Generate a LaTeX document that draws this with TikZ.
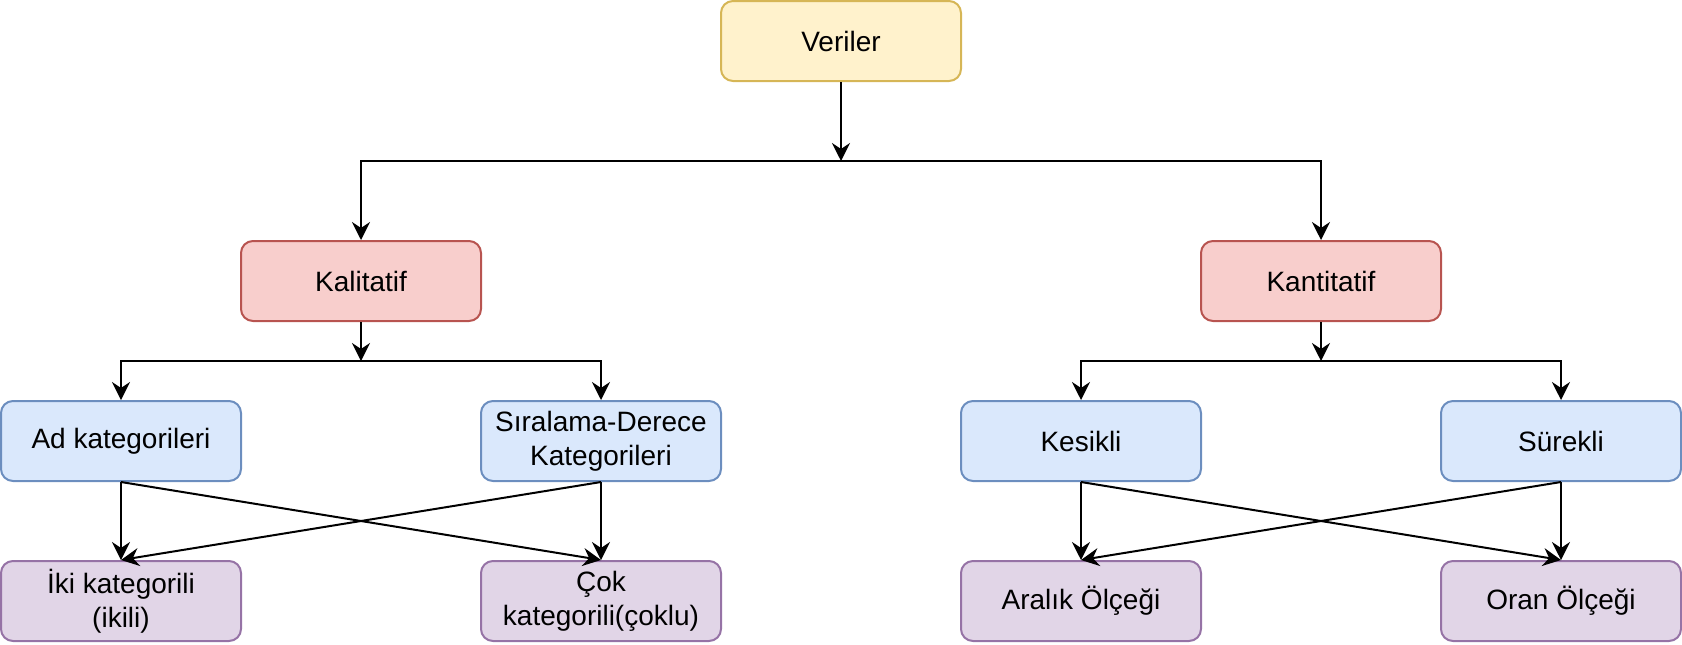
\documentclass[tikz,border=0pt]{standalone}
\usepackage{fontspec}
\setmainfont{Liberation Sans}
\usetikzlibrary{arrows.meta}
\definecolor{yelfill}{HTML}{FFF2CC}
\definecolor{yeldraw}{HTML}{D6B656}
\definecolor{redfill}{HTML}{F8CECC}
\definecolor{reddraw}{HTML}{B85450}
\definecolor{bluefill}{HTML}{DAE8FC}
\definecolor{bluedraw}{HTML}{6C8EBF}
\definecolor{purfill}{HTML}{E1D5E7}
\definecolor{purdraw}{HTML}{9673A6}
\begin{document}
\begin{tikzpicture}[x=0.5pt,y=-0.5pt,
        box/.style={rectangle,rounded corners=6pt,line width=1pt,minimum width=120pt,minimum height=40pt,
                align=center,inner sep=0pt,font=\fontsize{14}{17}\selectfont},
        yelbox/.style={box,fill=yelfill,draw=yeldraw},
        redbox/.style={box,fill=redfill,draw=reddraw},
        bluebox/.style={box,fill=bluefill,draw=bluedraw},
        purbox/.style={box,fill=purfill,draw=purdraw},
        arr/.style={-{Stealth[length=9pt,width=9pt,inset=3pt]},line width=1pt}]
        \useasboundingbox (0,0) rectangle (1682,644);
        \node[yelbox] (veriler) at (841,41) {Veriler};
        \node[redbox] (kalitatif) at (361,281) {Kalitatif};
        \node[redbox] (kantitatif) at (1321,281) {Kantitatif};
        \node[bluebox] (ad) at (121,441) {Ad kategorileri};
        \node[bluebox] (sira) at (601,441) {Sıralama-Derece\\Kategorileri};
        \node[bluebox] (kesikli) at (1081,441) {Kesikli};
        \node[bluebox] (surekli) at (1561,441) {Sürekli};
        \node[purbox] (iki) at (121,601) {İki kategorili\\(ikili)};
        \node[purbox] (cok) at (601,601) {Çok\\kategorili(çoklu)};
        \node[purbox] (aralik) at (1081,601) {Aralık Ölçeği};
        \node[purbox] (oran) at (1561,601) {Oran Ölçeği};
        \coordinate (vbar) at (841,161);
        \coordinate (kalbar) at (361,361);
        \coordinate (kanbar) at (1321,361);
        % top level
        \draw[arr] (veriler) -- (vbar);
        \draw[arr] (vbar) -| (kalitatif);
        \draw[arr] (vbar) -| (kantitatif);
        % kalitatif
        \draw[arr] (kalitatif) -- (kalbar);
        \draw[arr] (kalbar) -| (ad);
        \draw[arr] (kalbar) -| (sira);
        \draw[arr] (ad.south) -- (iki.north);
        \draw[arr] (ad.south) -- (cok.north);
        \draw[arr] (sira.south) -- (iki.north);
        \draw[arr] (sira.south) -- (cok.north);
        % kantitatif
        \draw[arr] (kantitatif) -- (kanbar);
        \draw[arr] (kanbar) -| (kesikli);
        \draw[arr] (kanbar) -| (surekli);
        \draw[arr] (kesikli.south) -- (aralik.north);
        \draw[arr] (kesikli.south) -- (oran.north);
        \draw[arr] (surekli.south) -- (aralik.north);
        \draw[arr] (surekli.south) -- (oran.north);
\end{tikzpicture}
\end{document}
